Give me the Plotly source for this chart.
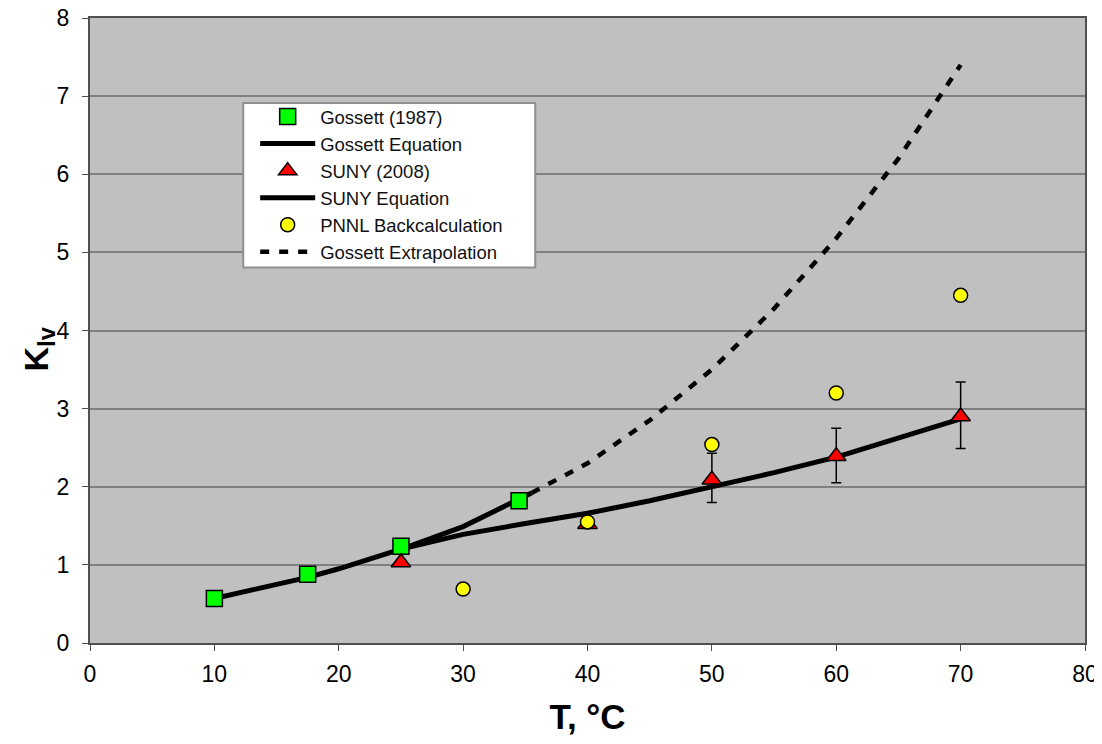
import plotly.graph_objects as go

# Gossett (1987) data
gossett_T = [10, 17.5, 25, 34.5]
gossett_K = [0.57, 0.88, 1.24, 1.82]

# Gossett equation
geq_T = [10, 15, 17.5, 20, 25, 30, 35.5]
geq_K = [0.57, 0.75, 0.84, 0.95, 1.20, 1.49, 1.92]

# Gossett extrapolation
gext_T = [35.5, 40, 45, 50, 55, 60, 65, 70]
gext_K = [1.92, 2.30, 2.85, 3.50, 4.28, 5.18, 6.20, 7.40]

# SUNY (2008) data with error bars
suny_T = [25, 40, 50, 60, 70]
suny_K = [1.03, 1.52, 2.09, 2.39, 2.90]
suny_err_plus = [0, 0, 0.34, 0.36, 0.44]
suny_err_minus = [0, 0, 0.29, 0.34, 0.41]

# SUNY equation
seq_T = [25.5, 30, 35, 40, 45, 50, 55, 60, 65, 70]
seq_K = [1.22, 1.39, 1.53, 1.66, 1.82, 2.00, 2.18, 2.38, 2.62, 2.87]

# PNNL backcalculation
pnnl_T = [30, 40, 50, 60, 70]
pnnl_K = [0.69, 1.55, 2.54, 3.20, 4.45]

x_ticks = [0, 10, 20, 30, 40, 50, 60, 70, 80]
y_ticks = [0, 1, 2, 3, 4, 5, 6, 7, 8]

fig = go.Figure()

fig.add_trace(go.Scatter(x=geq_T, y=geq_K, mode="lines", name="Gossett Equation",
                         line=dict(color="black", width=5), legendrank=2))
fig.add_trace(go.Scatter(x=seq_T, y=seq_K, mode="lines", name="SUNY Equation",
                         line=dict(color="black", width=5), legendrank=4))
fig.add_trace(go.Scatter(x=gext_T, y=gext_K, mode="lines", name="Gossett Extrapolation",
                         line=dict(color="black", width=4.5, dash="9px,10px"), legendrank=6))
fig.add_trace(go.Scatter(x=gossett_T, y=gossett_K, mode="markers", name="Gossett (1987)",
                         marker=dict(symbol="square", size=16, color="#00FF00",
                                     line=dict(color="black", width=1.5)), legendrank=1))
fig.add_trace(go.Scatter(x=suny_T, y=suny_K, mode="markers", name="SUNY (2008)",
                         marker=dict(symbol="triangle-up", size=17, color="#FF0000",
                                     line=dict(color="black", width=1.5)),
                         error_y=dict(type="data", symmetric=False, array=suny_err_plus,
                                      arrayminus=suny_err_minus, color="black",
                                      thickness=1.5, width=5),
                         legendrank=3))
fig.add_trace(go.Scatter(x=pnnl_T, y=pnnl_K, mode="markers", name="PNNL Backcalculation",
                         marker=dict(symbol="circle", size=14, color="#FFFF00",
                                     line=dict(color="black", width=1.5)), legendrank=5))

# legend frame drawn as a paper-space rectangle (legend itself is transparent)
fig.add_shape(type="rect", xref="paper", yref="paper",
              x0=0.154, x1=0.4475, y0=0.601, y1=0.864,
              fillcolor="white", line=dict(color="#909090", width=2), layer="above")

# y-axis title as a rotated annotation
fig.add_annotation(text="<b>K<sub>lv</sub></b>", xref="paper", yref="paper",
                   x=-0.052, y=0.47, xanchor="center", yanchor="middle",
                   textangle=-90, showarrow=False, font=dict(size=34))

# page body adds an 8px offset, so the figure is sized to fit the window
fig.update_layout(
    width=1094, height=736,
    margin=dict(l=82, r=17, t=10, b=101),
    paper_bgcolor="white",
    plot_bgcolor="#C0C0C0",
    font=dict(family="Liberation Sans, Arial, sans-serif", color="black", size=23),
    legend=dict(x=0.166, y=0.872, xanchor="left", yanchor="top",
                bgcolor="rgba(0,0,0,0)", borderwidth=0,
                font=dict(size=18.5, color="#111111"), tracegroupgap=0, itemwidth=55),
    showlegend=True,
)
fig.update_xaxes(range=[0, 80], tickvals=x_ticks, ticks="outside", ticklen=6,
                 tickcolor="#505050", showgrid=False, zeroline=False, automargin=False,
                 showline=True, linecolor="#505050", linewidth=2, mirror=True,
                 ticklabelstandoff=3, ticklabeloverflow="allow",
                 title=dict(text="<b>T, °C</b>", font=dict(size=35), standoff=19))
fig.update_yaxes(range=[0, 8], tickvals=y_ticks, ticks="outside", ticklen=6,
                 tickcolor="#505050", showgrid=True, gridcolor="#808080", gridwidth=2,
                 zeroline=False, showline=True, linecolor="#505050", linewidth=2, mirror=True,
                 automargin=False, ticklabelstandoff=8, ticklabeloverflow="allow")

fig.write_html("out.html")
